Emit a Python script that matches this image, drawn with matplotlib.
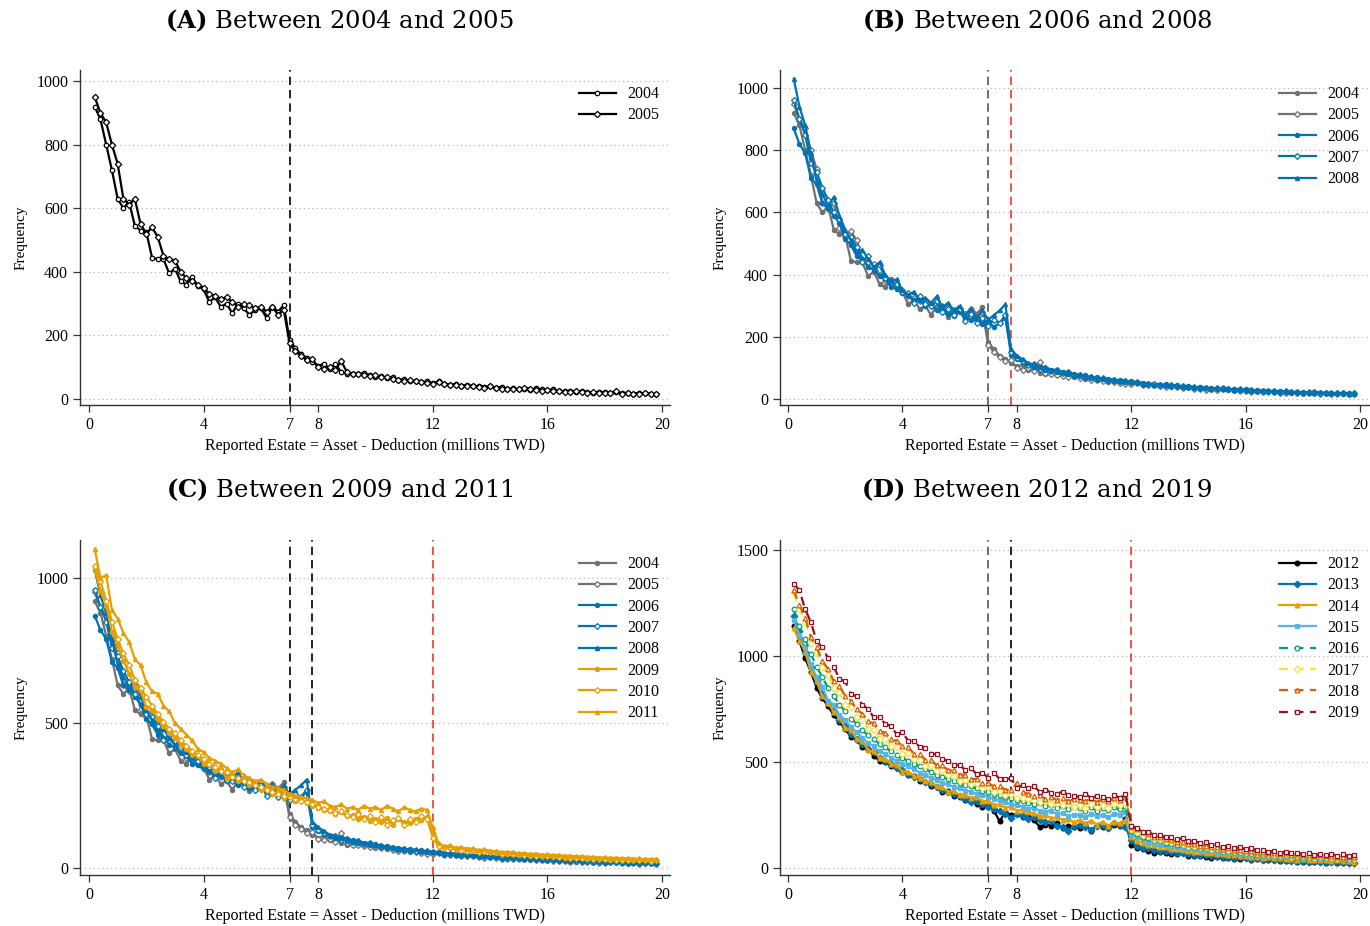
import numpy as np
import matplotlib
matplotlib.use("Agg")
import matplotlib.pyplot as plt

plt.rcParams['font.family'] = ['Liberation Serif', 'DejaVu Serif']
plt.rcParams['mathtext.fontset'] = 'custom'
plt.rcParams['mathtext.rm'] = 'DejaVu Serif'
plt.rcParams['mathtext.bf'] = 'DejaVu Serif:bold'

# frequency per 0.2 million TWD bin (bins at 0.2, 0.4, ..., 19.8)
y2004 = [920, 880, 800, 720, 630, 600, 620, 545, 530, 525,
         445, 440, 440, 395, 410, 370, 360, 385, 355, 345,
         305, 320, 290, 300, 270, 300, 285, 265, 280, 285,
         255, 290, 275, 295, 185, 160, 140, 130, 115, 105,
         110, 95, 110, 85, 80, 80, 78, 82, 75, 70,
         72, 65, 68, 60, 62, 55, 58, 52, 55, 50,
         55, 48, 45, 46, 42, 44, 40, 41, 38, 40,
         36, 38, 32, 33, 30, 31, 28, 33, 30, 28,
         30, 25, 24, 26, 22, 24, 22, 20, 22, 21,
         20, 22, 18, 20, 17, 19, 18, 16, 15]
y2005 = [950, 900, 870, 800, 740, 630, 610, 630, 550, 520,
         540, 510, 450, 440, 435, 400, 380, 370, 360, 350,
         330, 325, 315, 320, 305, 290, 300, 295, 285, 290,
         275, 290, 265, 280, 175, 150, 135, 122, 125, 100,
         95, 100, 90, 120, 85, 80, 78, 75, 72, 74,
         68, 70, 62, 60, 58, 60, 55, 52, 50, 48,
         52, 46, 44, 45, 42, 40, 42, 38, 36, 40,
         34, 32, 30, 31, 30, 36, 32, 28, 26, 27,
         24, 25, 23, 22, 24, 21, 20, 22, 19, 18,
         20, 24, 16, 18, 17, 15, 18, 16, 15]
y2006 = [870, 820, 790, 710, 690, 630, 615, 590, 565, 515,
         495, 460, 450, 425, 415, 395, 385, 360, 355, 340,
         335, 320, 318, 300, 305, 285, 298, 275, 268, 280,
         262, 255, 265, 240, 250, 232, 245, 262, 142, 128,
         118, 112, 104, 102, 93, 95, 86, 88, 80, 82,
         74, 76, 68, 70, 63, 66, 59, 61, 55, 57,
         51, 53, 47, 50, 45, 47, 43, 44, 40, 42,
         37, 39, 35, 36, 33, 35, 31, 33, 29, 31,
         27, 29, 26, 27, 24, 26, 23, 24, 21, 23,
         20, 22, 19, 21, 18, 20, 17, 19, 16]
y2007 = [960, 900, 850, 760, 730, 680, 640, 600, 580, 530,
         520, 490, 440, 460, 420, 430, 390, 375, 370, 345,
         340, 310, 330, 305, 300, 315, 280, 290, 270, 290,
         250, 275, 245, 260, 235, 255, 245, 270, 150, 132,
         122, 110, 112, 98, 100, 90, 92, 84, 86, 78,
         76, 72, 70, 65, 67, 62, 60, 58, 59, 54,
         55, 50, 48, 50, 46, 44, 45, 41, 42, 39,
         40, 36, 37, 34, 35, 32, 33, 30, 31, 28,
         29, 27, 26, 27, 25, 24, 25, 22, 23, 21,
         22, 20, 21, 19, 20, 18, 19, 17, 18]
y2008 = [1030, 940, 880, 790, 700, 660, 620, 650, 590, 545,
         510, 470, 480, 450, 425, 440, 400, 380, 385, 350,
         335, 345, 320, 325, 310, 330, 295, 310, 285, 300,
         270, 290, 260, 285, 255, 270, 285, 305, 160, 140,
         128, 115, 112, 102, 104, 94, 95, 86, 88, 79,
         80, 72, 74, 66, 68, 62, 65, 58, 60, 55,
         56, 50, 52, 46, 49, 44, 46, 41, 43, 39,
         40, 36, 38, 34, 36, 32, 34, 30, 32, 29,
         30, 27, 29, 25, 27, 24, 26, 22, 24, 21,
         23, 20, 22, 19, 21, 18, 20, 17, 19]
y2009 = [1030, 955, 905, 815, 770, 715, 670, 625, 610, 555,
         545, 515, 490, 465, 450, 425, 410, 390, 385, 360,
         355, 335, 340, 310, 320, 300, 305, 285, 290, 270,
         275, 255, 262, 240, 250, 232, 238, 225, 215, 208,
         200, 195, 188, 192, 178, 182, 170, 176, 162, 170,
         158, 172, 150, 168, 160, 155, 170, 165, 175, 120,
         78, 72, 68, 66, 62, 64, 58, 60, 55, 56,
         52, 50, 48, 49, 45, 46, 42, 44, 40, 41,
         38, 39, 35, 36, 34, 35, 32, 33, 30, 31,
         29, 30, 28, 27, 29, 26, 27, 25, 28]
y2010 = [1040, 990, 920, 850, 790, 740, 700, 650, 620, 590,
         560, 530, 505, 480, 465, 440, 420, 405, 390, 375,
         360, 350, 335, 330, 315, 310, 300, 295, 285, 280,
         270, 262, 255, 250, 245, 238, 232, 228, 220, 212,
         205, 200, 190, 195, 182, 175, 185, 168, 178, 160,
         175, 150, 165, 172, 148, 168, 160, 178, 170, 105,
         75, 70, 72, 65, 63, 60, 62, 57, 58, 54,
         55, 50, 51, 47, 48, 44, 45, 42, 43, 40,
         40, 37, 38, 35, 36, 33, 34, 31, 32, 30,
         31, 28, 29, 27, 28, 26, 27, 25, 26]
y2011 = [1100, 1000, 1010, 890, 860, 810, 780, 720, 700, 640,
         610, 600, 560, 540, 500, 480, 460, 440, 410, 400,
         380, 370, 360, 345, 330, 340, 320, 310, 300, 305,
         290, 280, 275, 270, 255, 250, 245, 240, 235, 225,
         230, 215, 210, 220, 205, 210, 200, 215, 205, 210,
         200, 215, 205, 195, 210, 200, 195, 205, 200, 140,
         85, 75, 78, 70, 72, 66, 68, 62, 64, 60,
         58, 56, 54, 55, 50, 52, 48, 50, 46, 47,
         44, 45, 42, 43, 40, 41, 38, 39, 36, 37,
         35, 36, 33, 34, 32, 33, 30, 31, 32]
y2012 = [1140, 1070, 990, 925, 850, 800, 765, 720, 690, 655,
         620, 605, 570, 560, 530, 505, 500, 480, 470, 455,
         440, 435, 410, 405, 385, 380, 360, 365, 340, 335,
         320, 325, 300, 290, 300, 270, 220, 265, 250, 255,
         240, 245, 225, 195, 205, 200, 210, 190, 200, 195,
         190, 205, 175, 200, 195, 190, 205, 200, 230, 110,
         95, 90, 80, 72, 75, 70, 68, 65, 70, 58,
         55, 58, 50, 48, 52, 46, 48, 44, 42, 45,
         40, 42, 38, 36, 38, 35, 34, 36, 30, 28,
         30, 26, 28, 24, 26, 22, 25, 24, 22]
y2013 = [1190, 1120, 1020, 950, 880, 820, 780, 740, 700, 670,
         630, 610, 585, 560, 545, 520, 505, 490, 470, 460,
         445, 430, 420, 405, 395, 380, 370, 360, 350, 340,
         325, 310, 315, 300, 290, 280, 270, 255, 235, 255,
         245, 230, 240, 225, 215, 220, 200, 195, 175, 200,
         205, 195, 180, 200, 205, 190, 210, 205, 195, 130,
         105, 95, 92, 85, 80, 82, 75, 70, 72, 66,
         62, 60, 63, 56, 55, 52, 54, 48, 50, 46,
         44, 45, 40, 42, 38, 36, 38, 34, 35, 32,
         30, 32, 28, 30, 27, 26, 28, 25, 24]
y2014 = [1130, 1070, 1020, 925, 880, 810, 780, 735, 710, 660,
         650, 610, 600, 555, 550, 520, 515, 490, 485, 455,
         455, 435, 425, 410, 405, 385, 380, 360, 362, 345,
         345, 330, 335, 315, 318, 298, 300, 285, 290, 270,
         275, 262, 258, 245, 250, 235, 240, 228, 232, 215,
         228, 210, 224, 205, 218, 200, 215, 210, 228, 145,
         128, 120, 110, 108, 98, 97, 90, 90, 83, 82,
         76, 77, 70, 72, 64, 66, 60, 62, 56, 57,
         53, 54, 48, 50, 45, 47, 42, 44, 40, 42,
         38, 40, 36, 38, 34, 36, 32, 34, 30]
y2015 = [1170, 1100, 1040, 960, 900, 855, 790, 770, 720, 700,
         665, 640, 615, 590, 575, 550, 540, 520, 505, 490,
         480, 465, 450, 440, 425, 415, 400, 395, 380, 375,
         365, 360, 350, 345, 335, 325, 320, 310, 300, 295,
         290, 280, 285, 270, 265, 270, 255, 260, 245, 250,
         250, 240, 255, 245, 250, 240, 255, 250, 265, 160,
         145, 135, 125, 120, 112, 110, 102, 100, 95, 92,
         88, 85, 80, 82, 76, 74, 72, 70, 66, 68,
         62, 64, 58, 60, 55, 56, 52, 54, 50, 48,
         50, 46, 48, 44, 46, 42, 44, 40, 42]
y2016 = [1220, 1140, 1080, 1010, 950, 900, 850, 810, 770, 740,
         705, 680, 650, 625, 610, 585, 570, 550, 535, 520,
         505, 490, 480, 465, 455, 440, 430, 420, 410, 400,
         390, 385, 375, 365, 360, 350, 345, 335, 330, 320,
         318, 305, 302, 308, 292, 295, 282, 292, 278, 288,
         282, 270, 288, 268, 282, 272, 288, 276, 292, 175,
         162, 148, 142, 130, 130, 118, 118, 108, 108, 100,
         100, 93, 94, 86, 88, 80, 82, 76, 77, 70,
         72, 66, 68, 62, 64, 58, 60, 55, 57, 52,
         54, 50, 52, 48, 50, 45, 47, 43, 45]
y2017 = [1300, 1220, 1160, 1060, 1020, 950, 910, 850, 830, 770,
         760, 710, 700, 655, 650, 610, 608, 575, 572, 540,
         542, 512, 510, 482, 486, 458, 460, 438, 436, 412,
         416, 395, 400, 378, 380, 360, 364, 345, 350, 330,
         330, 325, 320, 310, 315, 300, 305, 295, 300, 290,
         295, 285, 300, 290, 295, 285, 300, 295, 305, 185,
         172, 158, 152, 138, 137, 126, 124, 116, 114, 106,
         106, 98, 98, 91, 92, 85, 86, 80, 81, 74,
         76, 70, 72, 66, 68, 62, 64, 58, 60, 55,
         57, 52, 55, 50, 52, 47, 50, 45, 48]
y2018 = [1310, 1240, 1180, 1090, 1040, 975, 940, 880, 860, 810,
         790, 748, 728, 692, 682, 645, 638, 608, 600, 575,
         570, 540, 540, 510, 510, 485, 486, 460, 460, 440,
         440, 420, 420, 400, 400, 385, 385, 370, 368, 400,
         360, 350, 340, 345, 325, 335, 320, 330, 315, 325,
         320, 315, 330, 310, 325, 315, 330, 320, 335, 195,
         182, 168, 162, 148, 147, 136, 134, 124, 122, 114,
         114, 106, 106, 98, 98, 91, 92, 85, 86, 80,
         82, 75, 77, 71, 73, 67, 69, 63, 65, 60,
         62, 57, 59, 55, 57, 52, 54, 50, 52]
y2019 = [1340, 1310, 1220, 1160, 1070, 1040, 990, 950, 890, 880,
         820, 810, 770, 750, 710, 710, 680, 670, 630, 640,
         600, 598, 572, 566, 540, 536, 512, 506, 488, 486,
         462, 470, 442, 450, 425, 448, 420, 418, 424, 378,
         390, 375, 385, 360, 370, 355, 350, 360, 345, 340,
         335, 350, 330, 340, 335, 325, 345, 330, 350, 200,
         188, 172, 170, 156, 158, 145, 148, 136, 140, 127,
         128, 118, 122, 108, 113, 101, 104, 94, 98, 88,
         93, 83, 87, 77, 81, 73, 77, 69, 73, 65,
         69, 62, 67, 60, 66, 58, 64, 57, 62]

data = {2004: y2004, 2005: y2005, 2006: y2006, 2007: y2007, 2008: y2008,
        2009: y2009, 2010: y2010, 2011: y2011, 2012: y2012, 2013: y2013,
        2014: y2014, 2015: y2015, 2016: y2016, 2017: y2017, 2018: y2018,
        2019: y2019}

titles = ["(A)", "(B)", "(C)", "(D)"]
subtitles = ["Between 2004 and 2005", "Between 2006 and 2008",
             "Between 2009 and 2011", "Between 2012 and 2019"]
xticks = [0, 4, 7, 8, 12, 16, 20]

GRAY = '#707070'
BLUE = '#0072B2'
ORANGE = '#E69F00'

# year -> (color, marker, filled, linestyle)
style_bc = {2004: (GRAY, 'o', True, '-'), 2005: (GRAY, 'D', False, '-'),
            2006: (BLUE, 'o', True, '-'), 2007: (BLUE, 'D', False, '-'),
            2008: (BLUE, '^', True, '-'),
            2009: (ORANGE, 'o', True, '-'), 2010: (ORANGE, 'D', False, '-'),
            2011: (ORANGE, '^', True, '-')}
style_d = {2012: ('black', 'o', True, '-'), 2013: (BLUE, 'D', True, '-'),
           2014: (ORANGE, '^', True, '-'), 2015: ('#56B4E9', 's', True, '-'),
           2016: ('#009E73', 'o', False, (0, (4, 3))),
           2017: ('#F0E442', 'D', False, (0, (4, 3))),
           2018: ('#D55E00', '^', False, (0, (4, 3))),
           2019: ('#990F20', 's', False, (0, (4, 3)))}

fig = plt.figure(figsize=(13.7, 9.26), dpi=100)
W, H = 1370, 926
boxes = [(80, 70, 670, 405), (780, 70, 1370, 405),
         (80, 540, 670, 875), (780, 540, 1370, 875)]
xlims = [(-0.314, 20.28), (-0.28, 20.35), (-0.314, 20.28), (-0.28, 20.35)]
ylims = [(-19, 1035), (-19, 1058), (-24, 1131), (-33, 1547)]
yticks = [range(0, 1001, 200), range(0, 1001, 200), [0, 500, 1000], [0, 500, 1000, 1500]]
vlines = [[(7, 'black')], [(7, '#555555'), (7.79, '#e8392f')],
          [(7, 'black'), (7.79, 'black'), (12, '#e8392f')],
          [(7, '#555555'), (7.79, 'black'), (12, '#e8392f')]]
groups = [[2004, 2005], [2004, 2005, 2006, 2007, 2008],
          [2004, 2005, 2006, 2007, 2008, 2009, 2010, 2011],
          [2012, 2013, 2014, 2015, 2016, 2017, 2018, 2019]]

for i in range(4):
    l, t, r, b = boxes[i]
    ax = fig.add_axes([l / W, 1 - b / H, (r - l) / W, (b - t) / H])
    ax.set_xlim(*xlims[i])
    ax.set_ylim(*ylims[i])
    ax.set_xticks(xticks)
    ax.set_yticks(list(yticks[i]))
    for yt in yticks[i]:
        ax.axhline(yt, color='#b8b8b8', lw=0.9, ls=(0, (1, 2.5)), zorder=0)
    for xv, c in vlines[i]:
        ax.axvline(xv, color=c, lw=1.2, ls=(0, (5, 3)), zorder=1)

    for yr in groups[i]:
        vals = np.array(data[yr])
        x = 0.2 * np.arange(1, len(vals) + 1)
        if i == 0:
            c, m, filled, ls = 'black', ('o' if yr == 2004 else 'D'), False, '-'
            ms = 3.2
        elif i == 3:
            c, m, filled, ls = style_d[yr]
            ms = 3.4
        else:
            c, m, filled, ls = style_bc[yr]
            ms = 3.0
        ax.plot(x, vals, color=c, lw=1.6, ls=ls, marker=m, ms=ms,
                mfc=c if filled else 'white', mec=c, mew=0.9,
                label=str(yr), zorder=2)

    for s in ['top', 'right']:
        ax.spines[s].set_visible(False)
    for s in ['left', 'bottom']:
        ax.spines[s].set_color('#333333')
        ax.spines[s].set_linewidth(1.0)
    ax.tick_params(axis='both', labelsize=11.5, length=5, width=0.9, color='#333333', direction='out')
    ax.set_xlabel("Reported Estate = Asset - Deduction (millions TWD)", fontsize=11.5, labelpad=4)
    ax.set_ylabel("Frequency", fontsize=11, labelpad=6.5 if i % 2 == 0 else 7)
    ax.legend(loc='upper right', bbox_to_anchor=(1.0, 0.985), frameon=False,
              fontsize=11.5, handlelength=2.3, labelspacing=0.33, borderaxespad=0.3,
              handletextpad=0.7)

    cx = 0.248 if i % 2 == 0 else 0.757
    ty = 1 - 28 / H if i < 2 else 1 - 497 / H
    fig.text(cx, ty, r"$\mathbf{" + titles[i] + "}$ " + subtitles[i],
             ha='center', va='baseline', fontsize=17.5, family='DejaVu Serif')

fig.savefig("out.png", dpi=100)
